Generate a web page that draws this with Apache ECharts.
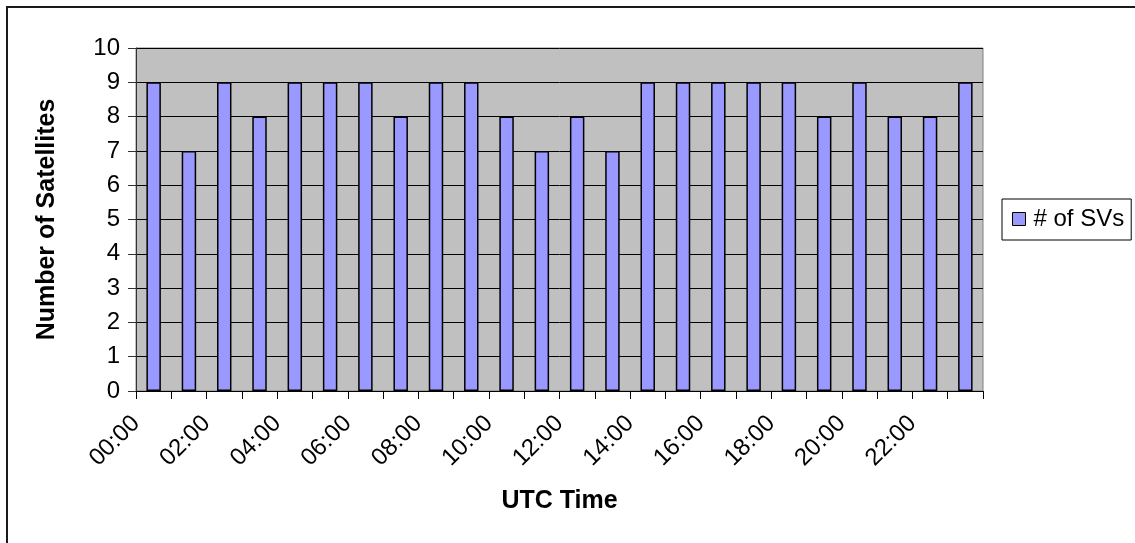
<!DOCTYPE html>
<html>
<head>
<meta charset="utf-8">
<script src="https://cdn.jsdelivr.net/npm/echarts@6/dist/echarts.min.js"></script>
<style>
  html, body { margin: 0; padding: 0; background: #fff; }
  #chart { width: 1135px; height: 543px; }
</style>
</head>
<body>
<div id="chart"></div>
<script>
// Hourly satellite counts (UTC)
const hours = ['00:00','01:00','02:00','03:00','04:00','05:00','06:00','07:00',
               '08:00','09:00','10:00','11:00','12:00','13:00','14:00','15:00',
               '16:00','17:00','18:00','19:00','20:00','21:00','22:00','23:00'];
const svCounts = [9, 7, 9, 8, 9, 9, 9, 8, 9, 9, 8, 7, 8, 7, 9, 9, 9, 9, 9, 8, 9, 8, 8, 9];
const seriesName = '# of SVs';
const yTitle = 'Number of Satellites';
const xTitle = 'UTC Time';

const FONT = '"Liberation Sans", Arial, sans-serif';

const chart = echarts.init(document.getElementById('chart'), null, { renderer: 'canvas' });

chart.setOption({
  animation: false,
  backgroundColor: '#ffffff',
  textStyle: { fontFamily: FONT, color: '#000' },
  graphic: [{
    type: 'rect',
    shape: { x: 7, y: 7, width: 1200, height: 600 },
    style: { fill: 'none', stroke: '#1a1a1a', lineWidth: 2 },
    silent: true,
    z: 100
  }],
  grid: {
    left: 136, right: 152, top: 48, bottom: 152,
    show: true,
    backgroundColor: '#c0c0c0',
    borderColor: '#808080',
    borderWidth: 1
  },
  legend: {
    left: 1002, top: 199,
    orient: 'vertical',
    data: [seriesName],
    icon: 'rect',
    itemWidth: 13, itemHeight: 13,
    padding: [8, 7, 9, 10],
    borderColor: '#000', borderWidth: 1,
    backgroundColor: '#fff',
    textStyle: { fontFamily: FONT, fontSize: 24, color: '#000', padding: [0, 0, 0, 3] },
    itemStyle: { borderColor: '#000', borderWidth: 1 }
  },
  xAxis: {
    type: 'category',
    data: hours,
    name: xTitle,
    nameLocation: 'middle',
    nameGap: 98,
    nameTextStyle: { fontFamily: FONT, fontSize: 25, fontWeight: 'bold', color: '#000' },
    axisLine: { lineStyle: { color: '#000', width: 1 } },
    axisTick: { show: true, interval: 0, length: 8, lineStyle: { color: '#000' } },
    axisLabel: {
      interval: 1, rotate: 45, margin: 11,
      padding: [0, 25, 0, 0],
      fontFamily: FONT, fontSize: 24, color: '#000'
    },
    splitLine: { show: false }
  },
  yAxis: {
    type: 'value',
    min: 0, max: 10, interval: 1,
    name: yTitle,
    nameLocation: 'middle',
    nameGap: 76,
    nameRotate: 90,
    nameTextStyle: { fontFamily: FONT, fontSize: 25, fontWeight: 'bold', color: '#000' },
    axisLine: { show: true, lineStyle: { color: '#333', width: 1 } },
    axisTick: { show: true, length: 8, lineStyle: { color: '#333' } },
    axisLabel: { margin: 16, fontFamily: FONT, fontSize: 24, color: '#000' },
    splitLine: { show: true, lineStyle: { color: '#000', width: 1 } }
  },
  series: [{
    name: seriesName,
    type: 'bar',
    data: svCounts,
    barWidth: '41%',
    itemStyle: { color: '#9999ff', borderColor: '#000', borderWidth: 1.5 }
  }]
});
</script>
</body>
</html>
